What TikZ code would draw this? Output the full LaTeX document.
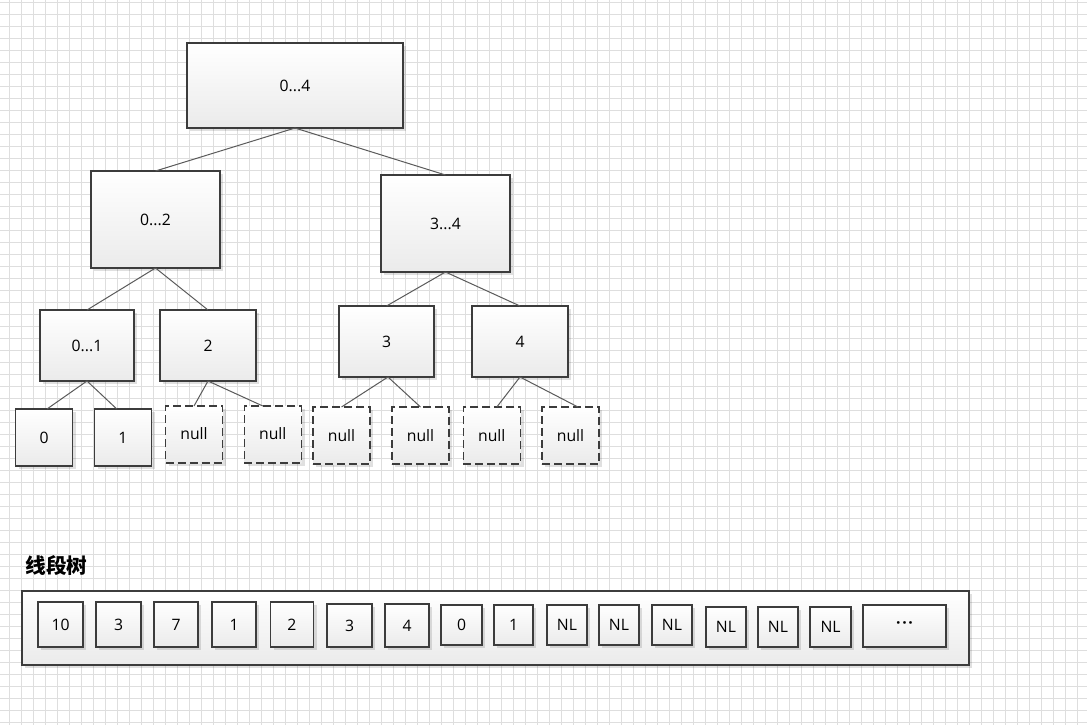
\documentclass[tikz,border=0pt]{standalone}
\usepackage{fontspec}
\setmainfont{Open Sans}
\newfontfamily\cjk{Noto Sans CJK SC}
\usetikzlibrary{shadows}
\definecolor{bordc}{HTML}{3C3C3C}
\definecolor{linec}{HTML}{5A5A5A}
\definecolor{gridc}{HTML}{DEDEDE}
\tikzset{
  box/.style={draw=bordc, line width=0.9pt, top color=white, bottom color=black!8,
    inner sep=0pt, outer sep=0pt,
    drop shadow={shadow xshift=2.5pt, shadow yshift=-2.5pt, fill=black, opacity=0.12},
    font=\fontsize{11.8}{13}\selectfont},
  nullbox/.style={box, dash pattern=on 6pt off 3pt},
  wd/.style={minimum width=0.75pt*#1},
  ht/.style={minimum height=0.75pt*#1},
  link/.style={draw=linec, line width=0.75pt},
  gridline/.style={draw=gridc, line width=0.7pt}
}
\begin{document}
\begin{tikzpicture}[x=0.75pt,y=-0.75pt]
\useasboundingbox (0,0) rectangle (1087,725);
\fill[white] (0,0) rectangle (1087,725);
\begin{scope}
\clip (0,0) rectangle (1087,725);
\foreach \i in {0,...,90} \draw[gridline] ({9.3+12*\i},0) -- ({9.3+12*\i},725);
\foreach \j in {0,...,60} \draw[gridline] (0,{2.5+12*\j}) -- (1087,{2.5+12*\j});
\end{scope}

% tree
\node[box, wd=216, ht=85] (root) at (295,85.5) {0...4};
\node[box, wd=129, ht=97] (n02) at (155.5,219.5) {0...2};
\node[box, wd=129, ht=97] (n34) at (445.5,223.5) {3...4};
\node[box, wd=94, ht=71] (n01) at (87,345.5) {0...1};
\node[box, wd=96, ht=71] (n2) at (208,345.5) {2};
\node[box, wd=95, ht=71] (n3) at (386.5,341.5) {3};
\node[box, wd=96, ht=71] (n4) at (520,341.5) {4};
\node[box, wd=57, ht=57] (l0) at (44,437.5) {0};
\node[box, wd=57, ht=57] (l1) at (122.8,437.5) {1};
\node[nullbox, wd=57, ht=57] (u1) at (194,434.5) {\raisebox{1pt}{null}};
\node[nullbox, wd=57, ht=57] (u2) at (272.8,434.5) {\raisebox{1pt}{null}};
\node[nullbox, wd=57, ht=57] (u3) at (341.5,435.5) {null};
\node[nullbox, wd=57, ht=57] (u4) at (420.5,435.5) {null};
\node[nullbox, wd=57, ht=57] (u5) at (491.8,435.5) {null};
\node[nullbox, wd=57, ht=57] (u6) at (570.5,435.5) {null};

\draw[link] (root.south) -- (n02.north);
\draw[link] (root.south) -- (n34.north);
\draw[link] (n02.south) -- (n01.north);
\draw[link] (n02.south) -- (n2.north);
\draw[link] (n34.south) -- (n3.north);
\draw[link] (n34.south) -- (n4.north);
\draw[link] (n01.south) -- ([xshift=2.25pt]l0.north);
\draw[link] (n01.south) -- ([xshift=-4.5pt]l1.north);
\draw[link] (n2.south) -- (u1.north);
\draw[link] (n2.south) -- ([xshift=-7.5pt]u2.north);
\draw[link] ([xshift=1.1pt]n3.south) -- (u3.north);
\draw[link] ([xshift=1.1pt]n3.south) -- (u4.north);
\draw[link] (n4.south) -- ([xshift=3.75pt]u5.north);
\draw[link] (n4.south) -- ([xshift=5.6pt]u6.north);

% title
\node[inner sep=0pt, font=\cjk\bfseries\fontsize{15.5}{18}\selectfont] (title) at (56.5,566) {线段树};

% array
\node[box, wd=947, ht=74] (arr) at (495.5,628) {};
\node[box, wd=45, ht=45] (c1) at (60.5,624.5) {10};
\node[box, wd=45, ht=45] (c2) at (118.5,624.5) {3};
\node[box, wd=44, ht=45] (c3) at (176,624.5) {7};
\node[box, wd=44, ht=45] (c4) at (234,624.5) {1};
\node[box, wd=43, ht=45] (c5) at (291.8,624.5) {2};
\node[box, wd=45, ht=43] (c6) at (349.5,625.5) {3};
\node[box, wd=44, ht=43] (c7) at (407,625.5) {4};
\node[box, wd=41, ht=40] (c8) at (461.5,625) {0};
\node[box, wd=39, ht=40] (c9) at (513.5,625) {1};
\node[box, wd=40, ht=40] (c10) at (567,625) {NL};
\node[box, wd=40, ht=40] (c11) at (619,625) {NL};
\node[box, wd=40, ht=40] (c12) at (672,625) {NL};
\node[box, wd=40, ht=40] (c13) at (726,627) {NL};
\node[box, wd=40, ht=40] (c14) at (778,627) {NL};
\node[box, wd=41, ht=40] (c15) at (830.5,627) {NL};
\node[box, wd=83, ht=42] (c16) at (904.5,626) {\bfseries\raisebox{1pt}{·\kern1.2pt·\kern1.2pt·}};
\end{tikzpicture}
\end{document}
